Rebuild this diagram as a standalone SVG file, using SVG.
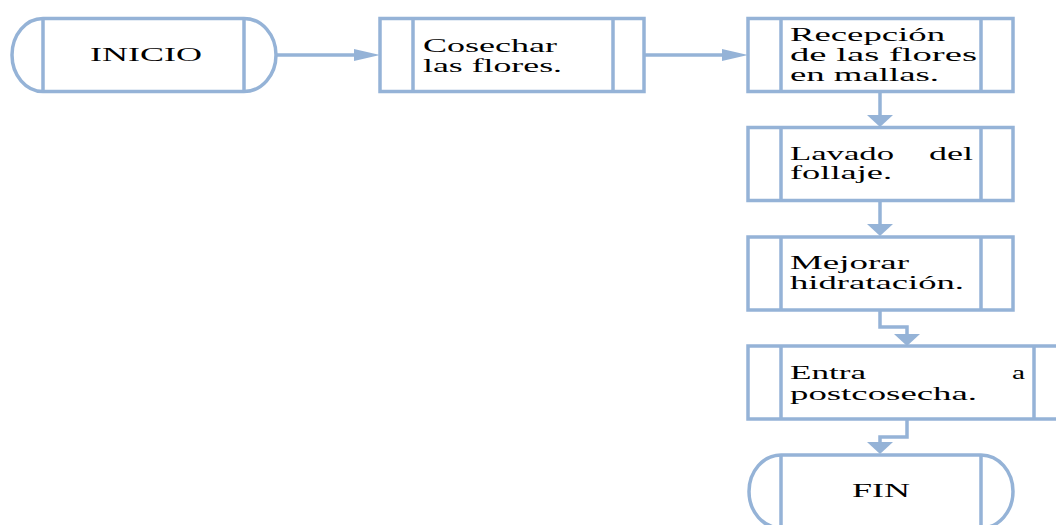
<svg xmlns="http://www.w3.org/2000/svg" width="1056" height="525" viewBox="0 0 1056 525">
<style>
.s{fill:#fff;stroke:#95B3D7;stroke-width:3.5}
.l{fill:none;stroke:#95B3D7;stroke-width:3.5}
.c{fill:none;stroke:#95B3D7;stroke-width:3.5}
.h{fill:#95B3D7;stroke:none}
text{font-family:"Liberation Serif","Times New Roman",serif;font-size:18px;fill:#000}
</style>
<rect width="1056" height="525" fill="#fff"/>
<g id="connectors">
<path class="c" d="M276,55 H356"/><polygon class="h" points="354,49 380,55 354,61"/>
<path class="c" d="M644,55 H724"/><polygon class="h" points="722,49 748,55 722,61"/>
<path class="c" d="M880,91.5 V117"/><polygon class="h" points="867,115 893,115 880,127"/>
<path class="c" d="M880,200 V226"/><polygon class="h" points="867,224 893,224 880,236"/>
<path class="c" d="M880,310 V327 H907 V336"/><polygon class="h" points="894,334 920,334 907,346"/>
<path class="c" d="M907,419 V437 H880 V444"/><polygon class="h" points="867,442 893,442 880,454"/>
</g>
<g id="inicio">
<path class="s" d="M43,18.5 H244 A32,36.5 0 0 1 244,91.5 H43 A31,36.5 0 0 1 43,18.5 Z"/>
<path class="l" d="M43,18.5 V91.5 M244,18.5 V91.5"/>
<text x="90" y="61" textLength="112" lengthAdjust="spacingAndGlyphs">INICIO</text>
</g>
<g id="cosechar">
<rect class="s" x="380" y="18.5" width="264" height="73"/>
<path class="l" d="M413,18.5 V91.5 M613,18.5 V91.5"/>
<text x="423" y="52" textLength="134" lengthAdjust="spacingAndGlyphs">Cosechar</text>
<text x="423" y="72" textLength="139" lengthAdjust="spacingAndGlyphs">las flores.</text>
</g>
<g id="recepcion">
<rect class="s" x="748" y="18.5" width="265" height="73"/>
<path class="l" d="M781,18.5 V91.5 M981,18.5 V91.5"/>
<text x="790" y="41" textLength="155" lengthAdjust="spacingAndGlyphs">Recepción</text>
<text x="790" y="61" textLength="187" lengthAdjust="spacingAndGlyphs">de las flores</text>
<text x="790" y="81" textLength="149" lengthAdjust="spacingAndGlyphs">en mallas.</text>
</g>
<g id="lavado">
<rect class="s" x="748" y="127.5" width="265" height="73"/>
<path class="l" d="M781,127.5 V200.5 M981,127.5 V200.5"/>
<text x="790" y="160" textLength="104" lengthAdjust="spacingAndGlyphs">Lavado</text>
<text x="929" y="160" textLength="44" lengthAdjust="spacingAndGlyphs">del</text>
<text x="790" y="179" textLength="102" lengthAdjust="spacingAndGlyphs">follaje.</text>
</g>
<g id="mejorar">
<rect class="s" x="748" y="237" width="265" height="73"/>
<path class="l" d="M781,237 V310 M981,237 V310"/>
<text x="790" y="269" textLength="119" lengthAdjust="spacingAndGlyphs">Mejorar</text>
<text x="790" y="289" textLength="174" lengthAdjust="spacingAndGlyphs">hidratación.</text>
</g>
<g id="entra">
<rect class="s" x="748" y="346" width="320" height="73"/>
<path class="l" d="M781,346 V419 M1034,346 V419"/>
<text x="790" y="379" textLength="76" lengthAdjust="spacingAndGlyphs">Entra</text>
<text x="1012" y="379" textLength="13" lengthAdjust="spacingAndGlyphs">a</text>
<text x="790" y="400" textLength="187" lengthAdjust="spacingAndGlyphs">postcosecha.</text>
</g>
<g id="fin">
<path class="s" d="M781,455 H981 A32,36.5 0 0 1 981,528 H781 A32,36.5 0 0 1 781,455 Z"/>
<path class="l" d="M781,455 V528 M981,455 V528"/>
<text x="852" y="497" textLength="58" lengthAdjust="spacingAndGlyphs">FIN</text>
</g>
</svg>
